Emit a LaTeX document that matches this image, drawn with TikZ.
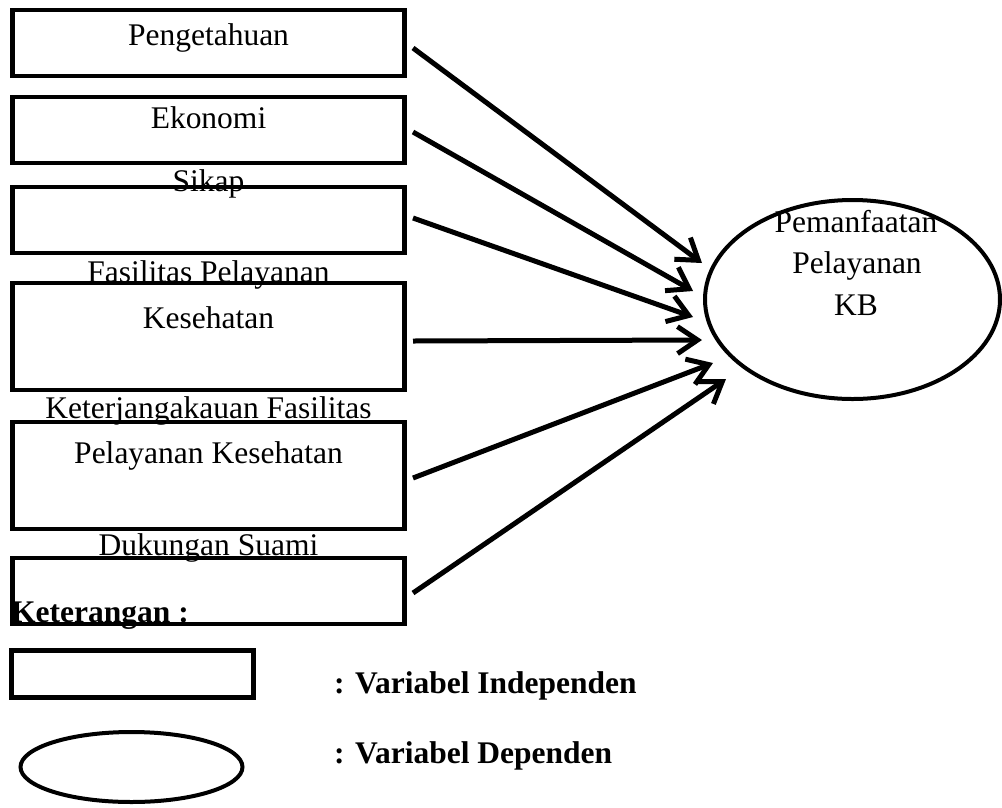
\documentclass[tikz,border=0pt]{standalone}
\usepackage{fontspec}
\setmainfont{Liberation Serif}
\usepackage{tikz}
\usetikzlibrary{arrows.meta,%
                shapes,positioning}

\begin{document}
\begin{tikzpicture}[x=1pt,y=-1pt,
  varbox/.style={draw,rectangle,line width=4.5pt,inner sep=0pt,outer sep=0pt,
                 minimum width=392pt},
  varell/.style={draw,ellipse,line width=4pt,inner sep=0pt,outer sep=0pt},
  lbl/.style={anchor=base,inner sep=0pt,font=\fontsize{31.5}{41.5}\selectfont},
  lgd/.style={anchor=base west,inner sep=0pt,font=\fontsize{31.5}{41.5}\selectfont\bfseries},
  arr/.style={line width=5pt,-{Straight Barb[length=20pt,width=27pt]}}]
\useasboundingbox (0,0) rectangle (1002,807);

\node[varbox,minimum height=66pt] (peng) at (208.5,43) {};
\node[varbox,minimum height=66pt] (ekon) at (208.5,130) {};
\node[varbox,minimum height=66pt] (sikap) at (208.5,220) {};
\node[varbox,minimum height=107pt] (fasil) at (208.5,336.5) {};
\node[varbox,minimum height=107pt] (jangkau) at (208.5,475.5) {};
\node[varbox,minimum height=66pt] (suami) at (208.5,591) {};

\node[lbl] (pengtxt) at (208.5,45) {Pengetahuan};
\node[lbl] (ekontxt) at (208.5,128) {Ekonomi};
\node[lbl] (sikaptxt) at (208.5,191) {Sikap};
\node[lbl] (fasiltxt) at (208.5,282) {Fasilitas Pelayanan};
\node[lbl] (fasiltxtb) at (208.5,328) {Kesehatan};
\node[lbl] (jangkautxt) at (208.5,418) {Keterjangakauan Fasilitas};
\node[lbl] (jangkautxtb) at (208.5,463) {Pelayanan Kesehatan};
\node[lbl] (suamitxt) at (208.5,555) {Dukungan Suami};

\node[varell,minimum width=295pt,minimum height=199pt] (kb) at (852.5,299.5) {};
\node[lbl] (kbtxta) at (856,232) {Pemanfaatan};
\node[lbl] (kbtxtb) at (857,273) {Pelayanan};
\node[lbl] (kbtxtc) at (856,315) {KB};

\coordinate (tip1) at (702,263);
\coordinate (tip2) at (693,291);
\coordinate (tip3) at (693,317);
\coordinate (tip4) at (702,340);
\coordinate (tip5) at (713,363);
\coordinate (tip6) at (726,379);

\draw[arr] ([xshift=8.5pt,yshift=-5pt]peng.east) -- (tip1);
\draw[arr] ([xshift=8.5pt,yshift=-2pt]ekon.east) -- (tip2);
\draw[arr] ([xshift=8.5pt,yshift=2pt]sikap.east) -- (tip3);
\draw[arr] ([xshift=8.5pt,yshift=-4.5pt]fasil.east) -- (tip4);
\draw[arr] ([xshift=8.5pt,yshift=-2.5pt]jangkau.east) -- (tip5);
\draw[arr] ([xshift=8.5pt,yshift=-2pt]suami.east) -- (tip6);

\node[lgd] (ket) at (11,622) {Keterangan :};
\node[varbox,minimum width=242pt,minimum height=47pt] (lgbox) at (132.5,674) {};
\node[varell,minimum width=222pt,minimum height=70pt] (lgell) at (131.5,767) {};
\node[lgd] (lgboxtxt) at (334,693) {: Variabel Independen};
\node[lgd] (lgelltxt) at (334,763) {: Variabel Dependen};

\end{tikzpicture}
\end{document}
